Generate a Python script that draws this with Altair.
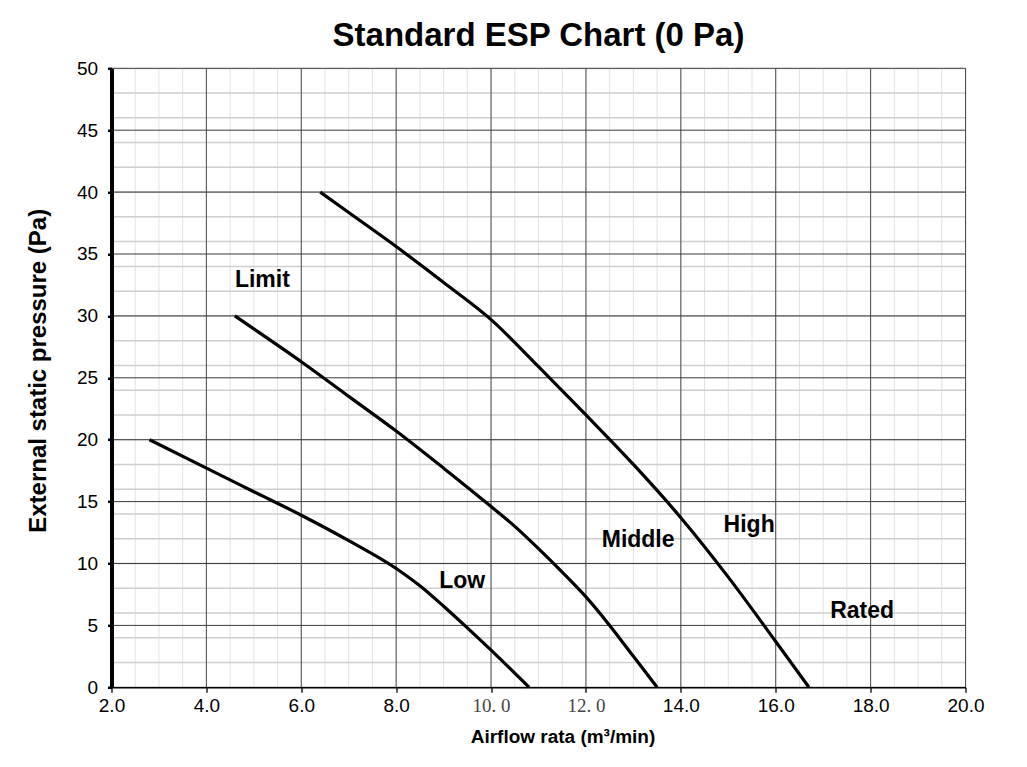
import altair as alt
import pandas as pd

# ---- data ----
low_x = [2.8, 4.0, 5.0, 6.0, 7.0, 8.0, 8.5, 9.0, 9.5, 10.0, 10.8]
low_y = [20.0, 17.7, 15.8, 13.9, 11.85, 9.6, 8.2, 6.55, 4.8, 3.0, 0.0]

mid_x = [4.6, 5.0, 6.0, 7.0, 8.0, 9.0, 10.0, 10.5, 11.0, 11.5, 12.0, 12.5, 13.0, 13.5]
mid_y = [30.0, 28.95, 26.3, 23.5, 20.7, 17.7, 14.6, 13.0, 11.2, 9.3, 7.3, 5.0, 2.5, 0.0]

high_x = [6.4, 7.0, 8.0, 9.0, 10.0, 11.0, 12.0, 13.0, 14.0, 15.0, 16.0, 16.7]
high_y = [40.0, 38.35, 35.6, 32.7, 29.7, 25.9, 22.0, 18.0, 13.7, 8.9, 3.7, 0.0]

label_text = ["Limit", "Low", "Middle", "High", "Rated"]
label_x = [5.18, 9.39, 13.10, 15.44, 17.82]
label_y = [32.3, 8.0, 11.35, 12.55, 5.6]

x_ticks = [2, 4, 6, 8, 10, 12, 14, 16, 18, 20]
y_ticks = [0, 5, 10, 15, 20, 25, 30, 35, 40, 45, 50]
x_minor = [2.5 + 0.5 * i for i in range(35)]
y_minor = [2 * i for i in range(1, 25)]

# ---- tables ----
rows = []
for name, xs, ys in [("Low", low_x, low_y), ("Middle", mid_x, mid_y), ("High", high_x, high_y)]:
    for i, (a, b) in enumerate(zip(xs, ys)):
        rows.append({"series": name, "order": i, "x": a, "y": b})
curves = pd.DataFrame(rows)
labels = pd.DataFrame({"text": label_text, "x": label_x, "y": label_y})

xscale = alt.Scale(domain=[2, 20], nice=False, zero=False)
yscale = alt.Scale(domain=[0, 50], nice=False, zero=False)

FONT = "Liberation Sans"
serif_test = "datum.value == 10 || datum.value == 12"
X_TITLE = "Airflow rata (m³/min)"
Y_TITLE = "External  static pressure (Pa)"

x_axis = alt.Axis(
    values=x_ticks,
    labelExpr="(datum.value == 10 || datum.value == 12) ? format(datum.value, '.0f') + '. 0' : format(datum.value, '.1f')",
    labelFont=alt.condition(serif_test, alt.value("Liberation Serif"), alt.value(FONT)),
    labelColor=alt.condition(serif_test, alt.value("#444444"), alt.value("black")),
    labelFontSize=19, labelPadding=4, labelFlush=False, labelOverlap=False,
    tickSize=5, tickWidth=1.5, tickColor="#222222",
    domainColor="black", domainWidth=1.5,
    grid=False, zindex=1,
    titleFont=FONT, titleFontSize=19, titleFontWeight="bold", titleColor="black",
    titleX=451, titleY=55, titleBaseline="alphabetic", titleAlign="center",
)

y_axis = alt.Axis(
    values=y_ticks, format="d",
    labelFont=FONT, labelFontSize=19, labelColor="black", labelPadding=10,
    labelFlush=False, labelOverlap=False,
    tickSize=4, tickWidth=2.5, tickColor="black",
    domainColor="black", domainWidth=4,
    grid=False, zindex=1,
    titleFont=FONT, titleFontSize=24, titleFontWeight="bold", titleColor="black",
    titleX=-66, titleY=302, titleAngle=270, titleBaseline="alphabetic", titleAlign="center",
)


def xenc(field):
    return alt.X(field, scale=xscale, axis=x_axis, title=X_TITLE)


def yenc(field):
    return alt.Y(field, scale=yscale, axis=y_axis, title=Y_TITLE)


x_minor_rules = alt.Chart(pd.DataFrame({"x": x_minor})).mark_rule(
    color="#e2e2e2", strokeWidth=1
).encode(x=xenc("x:Q"))

y_minor_rules = alt.Chart(pd.DataFrame({"y": y_minor})).mark_rule(
    color="#cfcfcf", strokeWidth=1.5
).encode(y=yenc("y:Q"))

x_major_rules = alt.Chart(pd.DataFrame({"x": x_ticks})).mark_rule(
    color="#4a4a4a", strokeWidth=1
).encode(x=xenc("x:Q"))

y_major_rules = alt.Chart(pd.DataFrame({"y": y_ticks})).mark_rule(
    color="#3a3a3a", strokeWidth=1
).encode(y=yenc("y:Q"))

lines = alt.Chart(curves).mark_line(
    color="black", strokeWidth=3.2, interpolate="monotone"
).encode(
    x=xenc("x:Q"),
    y=yenc("y:Q"),
    detail="series:N",
    order="order:Q",
)

texts = alt.Chart(labels).mark_text(
    font=FONT, fontSize=23, fontWeight="bold", color="black", align="center", baseline="alphabetic"
).encode(
    x=xenc("x:Q"),
    y=yenc("y:Q"),
    text="text:N",
)

chart = alt.layer(
    x_minor_rules, y_minor_rules, x_major_rules, y_major_rules, lines, texts
).properties(
    width=854,
    height=619,
    title=alt.TitleParams(
        "Standard ESP Chart (0 Pa)", font=FONT, fontSize=33, fontWeight="bold",
        color="black", anchor="middle", offset=6,
    ),
    autosize=alt.AutoSizeParams(type="none"),
    padding={"left": 103.5, "top": 60.3, "right": 50, "bottom": 70},
).configure_view(stroke=None).configure(background="white")

chart.save("out.html", embed_options={"renderer": "svg", "actions": False})
